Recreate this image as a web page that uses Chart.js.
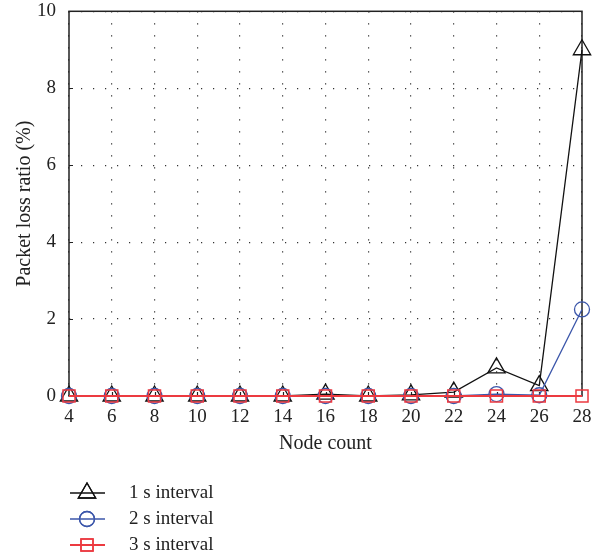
<!DOCTYPE html>
<html>
<head>
<meta charset="utf-8">
<script src="https://cdn.jsdelivr.net/npm/chart.js@4/dist/chart.umd.min.js"></script>
<style>
  html, body { margin: 0; padding: 0; background: #fff; }
  #wrap { width: 599px; height: 556px; }
</style>
</head>
<body>
<div id="wrap"><canvas id="lossChart" width="599" height="556"></canvas></div>
<script>
const nodeCounts = [4, 6, 8, 10, 12, 14, 16, 18, 20, 22, 24, 26, 28];
const interval1s = [0, 0, 0, 0, 0, 0, 0.05, 0, 0.03, 0.1, 0.73, 0.27, 9.0];
const interval2s = [0, 0, 0, 0, 0, 0, 0, 0, 0, 0, 0.05, 0.02, 2.25];
const interval3s = [0, 0, 0, 0, 0, 0, 0, 0, 0, 0, 0, 0, 0];
const seriesNames = ["1 s interval", "2 s interval", "3 s interval"];
const yTicks = [0, 2, 4, 6, 8, 10];

const serif = "'Liberation Serif', 'DejaVu Serif', serif";

function toPoints(values) {
  return values.map((v, i) => ({ x: nodeCounts[i], y: v }));
}

const datasets = [
  {
    label: seriesNames[0],
    data: toPoints(interval1s),
    borderColor: "#111",
    borderWidth: 1.3,
    pointStyle: "triangle",
    pointRadius: 10,
    pointBorderWidth: 1.3,
    pointBackgroundColor: "rgba(0,0,0,0)",
    order: 3,
  },
  {
    label: seriesNames[1],
    data: toPoints(interval2s),
    borderColor: "#3b56aa",
    borderWidth: 1.3,
    pointStyle: "circle",
    pointRadius: 7.5,
    pointBorderWidth: 1.3,
    pointBackgroundColor: "rgba(0,0,0,0)",
    order: 2,
  },
  {
    label: seriesNames[2],
    data: toPoints(interval3s),
    borderColor: "#ec3a40",
    borderWidth: 2,
    pointStyle: "rect",
    pointRadius: 8.5,
    pointBorderWidth: 1.5,
    pointBackgroundColor: "rgba(0,0,0,0)",
    order: 1,
  },
];
datasets.forEach((d) => { d.clip = false; d.tension = 0; d.fill = false; });

// frame, inward ticks and the legend below the axis
const framePlugin = {
  id: "frame",
  beforeDatasetsDraw(chart) {
    const { ctx, chartArea: a, scales } = chart;
    ctx.save();
    ctx.strokeStyle = "#222";
    ctx.lineWidth = 1.5;
    ctx.strokeRect(a.left, a.top, a.right - a.left, a.bottom - a.top);
    ctx.lineWidth = 1.2;
    ctx.beginPath();
    yTicks.slice(1, -1).forEach((v) => {
      const y = Math.round(scales.y.getPixelForValue(v)) + 0.5;
      ctx.moveTo(a.left, y);
      ctx.lineTo(a.left + 4, y);
    });
    nodeCounts.slice(1, -1).forEach((v) => {
      const x = Math.round(scales.x.getPixelForValue(v)) + 0.5;
      ctx.moveTo(x, a.bottom);
      ctx.lineTo(x, a.bottom - 4);
    });
    ctx.stroke();
    ctx.restore();
  },
  afterDraw(chart) {
    const { ctx } = chart;
    const rows = [493, 519, 545];
    ctx.save();
    chart.data.datasets.forEach((ds, i) => {
      const y = rows[i];
      ctx.strokeStyle = ds.borderColor;
      ctx.lineWidth = ds.borderWidth;
      ctx.beginPath();
      ctx.moveTo(70, y);
      ctx.lineTo(105, y);
      ctx.stroke();
      ctx.lineWidth = ds.pointBorderWidth;
      ctx.fillStyle = "rgba(0,0,0,0)";
      Chart.helpers.drawPoint(ctx, {
        pointStyle: ds.pointStyle,
        radius: ds.pointRadius,
        rotation: 0,
        borderWidth: ds.pointBorderWidth,
      }, 87, y);
      ctx.stroke();
      ctx.fillStyle = "#222";
      ctx.font = "19px " + serif;
      ctx.textBaseline = "middle";
      ctx.textAlign = "left";
      ctx.fillText(ds.label, 129, y);
    });
    ctx.restore();
  },
};

new Chart(document.getElementById("lossChart"), {
  type: "line",
  data: { datasets: datasets },
  plugins: [framePlugin],
  options: {
    responsive: false,
    animation: false,
    layout: { padding: { left: 8, right: 17, top: 11, bottom: 100 } },
    plugins: { legend: { display: false }, tooltip: { enabled: false } },
    scales: {
      x: {
        type: "linear",
        min: 4,
        max: 28,
        ticks: {
          stepSize: 2,
          padding: 10,
          color: "#222",
          font: { family: serif, size: 19 },
        },
        grid: { color: "#333", lineWidth: 1.2, drawTicks: false },
        border: { display: false, dash: [1.2, 10.8] },
        title: {
          display: true,
          text: "Node count",
          color: "#222",
          font: { family: serif, size: 20 },
          padding: { top: 0, bottom: 0 },
        },
        afterFit(scale) { scale.height = 60; scale.paddingLeft = 0; scale.paddingRight = 0; },
      },
      y: {
        min: 0,
        max: 10,
        afterBuildTicks(scale) { scale.ticks = yTicks.map((v) => ({ value: v })); },
        ticks: {
          padding: 13,
          color: "#222",
          font: { family: serif, size: 19 },
        },
        grid: { color: "#333", lineWidth: 1.2, drawTicks: false },
        border: { display: false, dash: [1.2, 10.8] },
        title: {
          display: true,
          text: "Packet loss ratio (%)",
          color: "#222",
          font: { family: serif, size: 20 },
          padding: { top: 5, bottom: 0 },
        },
        afterFit(scale) { scale.width = 61; scale.paddingTop = 0; scale.paddingBottom = 0; },
      },
    },
  },
});
</script>
</body>
</html>
